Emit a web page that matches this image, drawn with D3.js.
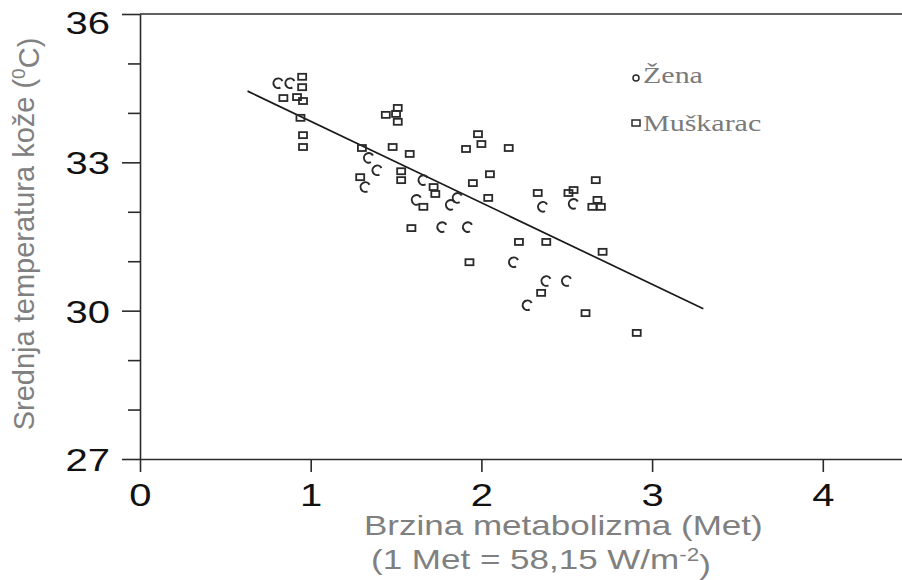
<!DOCTYPE html>
<html>
<head>
<meta charset="utf-8">
<script src="https://cdn.jsdelivr.net/npm/d3@7"></script>
<style>
  body { margin: 0; background: #fff; }
  svg { display: block; }
</style>
</head>
<body>
<div id="container"></div>
<script>
// values
const zenaX = [0.81, 0.88, 1.34, 1.39, 1.32, 1.66, 1.62, 1.86, 1.82, 1.77, 1.92, 2.19, 2.36, 2.54, 2.38, 2.50, 2.27];
const zenaY = [34.60, 34.60, 33.09, 32.84, 32.50, 32.64, 32.24, 32.28, 32.14, 31.69, 31.69, 30.98, 32.10, 32.16, 30.60, 30.60, 30.11];

const muskX = [0.95, 0.95, 0.84, 0.92, 0.955, 0.94, 0.955, 0.955,
  1.44, 1.51, 1.50, 1.51, 1.30, 1.48, 1.58, 1.29, 1.53, 1.53, 1.72, 1.73, 1.66, 1.59,
  1.98, 2.00, 1.91, 2.16, 2.05, 1.95, 2.04, 1.93, 2.22, 2.38, 2.33, 2.51, 2.54,
  2.67, 2.68, 2.65, 2.70, 2.71, 2.35, 2.61, 2.91];
const muskY = [34.73, 34.52, 34.30, 34.32, 34.24, 33.90, 33.55, 33.31,
  33.96, 34.10, 33.98, 33.82, 33.29, 33.31, 33.17, 32.70, 32.82, 32.64, 32.50, 32.36, 32.10, 31.67,
  33.57, 33.37, 33.27, 33.29, 32.76, 32.58, 32.28, 30.98, 31.39, 31.39, 32.38, 32.38, 32.44,
  32.64, 32.24, 32.10, 32.10, 31.19, 30.36, 29.95, 29.55];

// regression line end points
const lineX = [0.63, 3.3];
const lineY = [34.44, 30.04];

const xTicks = [0, 1, 2, 3, 4];
const yTicks = [27, 30, 33, 36];
const yMinor = [28, 29, 31, 32, 34, 35];
const legendLabels = ["Žena", "Muškarac"];

const widthSVG = 902, heightSVG = 580;
const stretch = 1.25;   // the original picture is widened horizontally

const svg = d3.select('#container')
  .append('svg')
  .attr('width', widthSVG)
  .attr('height', heightSVG);

const x = d3.scaleLinear().domain([0, 4.464]).range([140, 902]);
const y = d3.scaleLinear().domain([27, 36]).range([459, 14]);

const axisColor = "#2b2b2b";
const titleColor = "#808080";
const labelFont = "'Liberation Sans', Arial, sans-serif";

// left axis, major and minor ticks
const yAxis = svg.append("g")
  .attr("transform", `translate(${x(0)},0)`)
  .call(d3.axisLeft(y).tickValues(yTicks).tickSize(18).tickSizeOuter(0).tickPadding(0));
svg.append("g")
  .attr("transform", `translate(${x(0)},0)`)
  .call(d3.axisLeft(y).tickValues(yMinor).tickSize(12).tickSizeOuter(0).tickFormat(""))
  .select(".domain").remove();

yAxis.selectAll("text")
  .attr("x", -30 / stretch)
  // the top label sits a bit lower so it is not cut by the edge
  .attr("dy", d => d === 36 ? "0.6em" : "0.36em")
  .attr("transform", `scale(${stretch},1)`)
  .style("font-family", labelFont)
  .style("font-size", "32px")
  .attr("fill", "#111");

// bottom axis
const xAxis = svg.append("g")
  .attr("transform", `translate(0,${y(27)})`)
  .call(d3.axisBottom(x).tickValues(xTicks).tickFormat(d3.format("d"))
    .tickSize(13).tickSizeOuter(0).tickPadding(11));
xAxis.selectAll("text")
  .attr("transform", `scale(${stretch},1)`)
  .style("font-family", labelFont)
  .style("font-size", "32px")
  .attr("fill", "#111");

svg.selectAll(".domain, .tick line")
  .attr("stroke", axisColor)
  .attr("stroke-width", 1.6);

// top frame line
svg.append("line")
  .attr("x1", x(0)).attr("x2", widthSVG)
  .attr("y1", y(36)).attr("y2", y(36))
  .attr("stroke", axisColor)
  .attr("stroke-width", 1.6);

// axis titles
svg.append("text")
  .attr("transform", `translate(34,234) rotate(-90)`)
  .attr("text-anchor", "middle")
  .style("font-family", labelFont)
  .style("font-size", "29px")
  .attr("fill", titleColor)
  .call(t => {
    t.append("tspan").text("Srednja temperatura kože (");
    t.append("tspan").text("0").attr("dy", "-0.45em").style("font-size", "19px");
    t.append("tspan").text("C)").attr("dy", "0.45em");
  });

// x title, both lines start near the same left edge
const xTitle = svg.append("g")
  .style("font-family", labelFont)
  .style("font-size", "28px")
  .attr("fill", titleColor);
xTitle.append("text")
  .attr("transform", `translate(364,535) scale(${stretch},1)`)
  .text("Brzina metabolizma (Met)");
xTitle.append("text")
  .attr("transform", `translate(371,569) scale(${stretch},1)`)
  .call(t => {
    t.append("tspan").text("(1 Met = 58,15 W/m");
    t.append("tspan").text("-2").attr("dy", "-0.45em").style("font-size", "18px");
    t.append("tspan").text(")").attr("dy", "0.45em");
  });

// regression line
const line = d3.line().x(d => x(d[0])).y(d => y(d[1]));
svg.append("path")
  .datum(d3.zip(lineX, lineY))
  .attr("d", line)
  .attr("fill", "none")
  .attr("stroke", "#1a1a1a")
  .attr("stroke-width", 1.7);

// "c" shaped open circle as drawn in the figure, opening towards lower right
function cShape(cx, cy, r) {
  const p = d3.path();
  p.arc(cx, cy, r, -0.5, 1.1, true);
  return p.toString();
}

svg.append("g")
  .selectAll("path")
  .data(d3.zip(zenaX, zenaY))
  .enter()
  .append("path")
  .attr("d", d => cShape(x(d[0]), y(d[1]), 4.8))
  .attr("fill", "none")
  .attr("stroke", "#2a2a2a")
  .attr("stroke-width", 2);

svg.append("g")
  .selectAll("rect")
  .data(d3.zip(muskX, muskY))
  .enter()
  .append("rect")
  .attr("x", d => x(d[0]) - 4)
  .attr("y", d => y(d[1]) - 3)
  .attr("width", 8)
  .attr("height", 6)
  .attr("fill", "none")
  .attr("stroke", "#2a2a2a")
  .attr("stroke-width", 1.8);

// legend
const legend = svg.append("g").attr("id", "legend");
legend.append("circle")
  .attr("cx", 636).attr("cy", 78).attr("r", 3)
  .attr("fill", "none").attr("stroke", "#2a2a2a").attr("stroke-width", 1.5);
legend.append("rect")
  .attr("x", 632).attr("y", 120).attr("width", 8).attr("height", 6)
  .attr("fill", "none").attr("stroke", "#2a2a2a").attr("stroke-width", 1.5);
legend.selectAll("text")
  .data(legendLabels)
  .enter()
  .append("text")
  .attr("transform", (d, i) => `translate(643,${i ? 131 : 83}) scale(${stretch},1)`)
  .style("font-family", "'Liberation Serif', 'Times New Roman', serif")
  .style("font-size", "24px")
  .attr("fill", "#7a7a7a")
  .text(d => d);
</script>
</body>
</html>
